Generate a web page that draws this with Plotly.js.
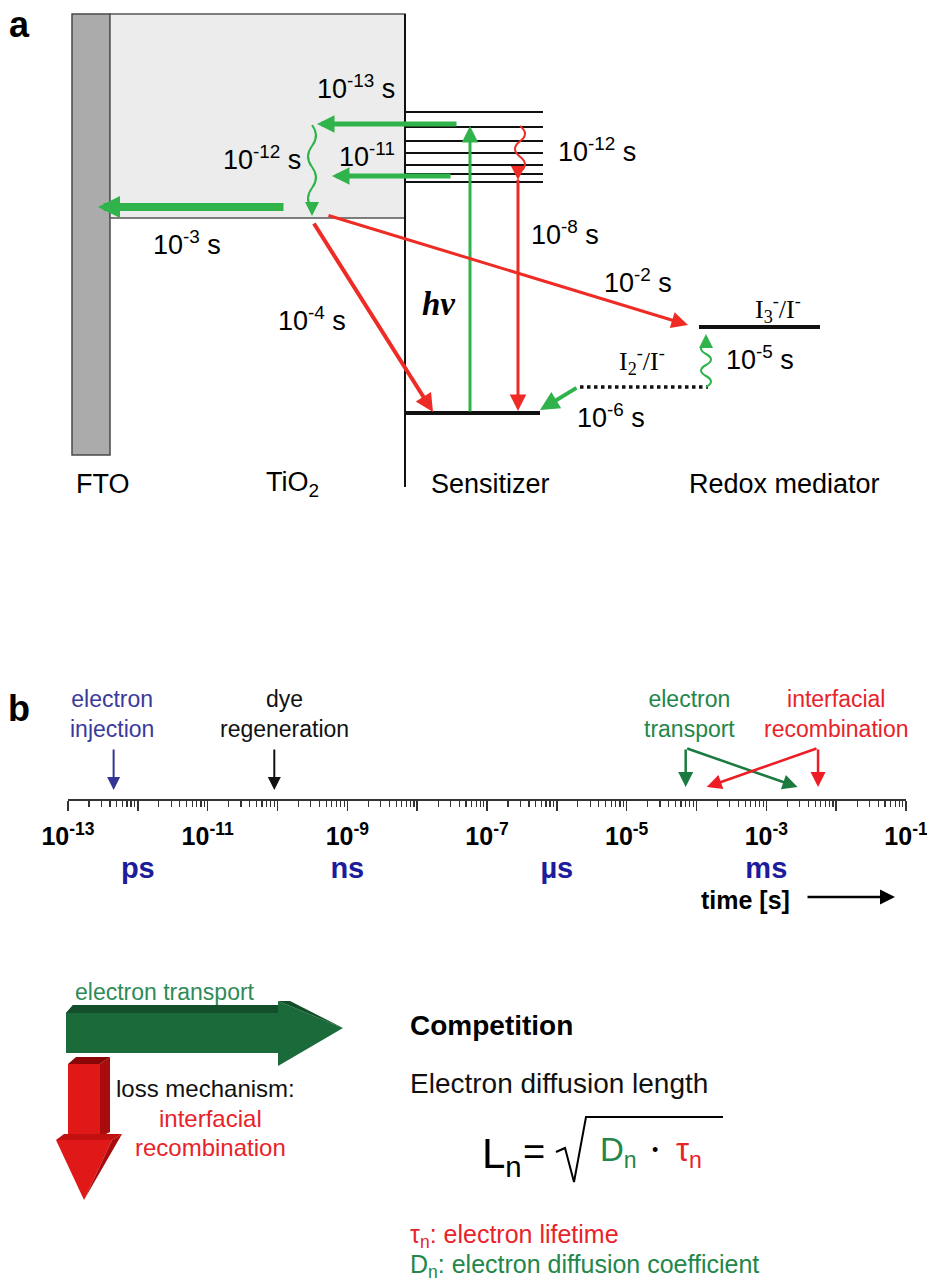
<!DOCTYPE html>
<html><head><meta charset="utf-8">
<script src="https://cdn.plot.ly/plotly-3.0.1.min.js"></script>
<style>html,body{margin:0;padding:0;background:#fff}</style>
</head><body><div id="chart" style="width:927px;height:1288px"></div>
<script>
// ================= DATA =================
// Panel a: energy levels (diagram units)
const excitedLevels = [112, 127, 141, 153, 165, 174, 182];
const groundLevel = 413;
const tio2Band = 218;
const i3Level = 327;
const i2Level = 387;
const columnNames = ['FTO', 'TiO<sub>2</sub>', 'Sensitizer', 'Redox mediator'];
const redoxCouples = ['I<sub>3</sub><sup>-</sup>/I<sup>-</sup>', 'I<sub>2</sub><sup>-</sup>/I<sup>-</sup>'];
const stepTimesA = ['10<sup>-13</sup> s', '10<sup>-12</sup> s', '10<sup>-11</sup>', '10<sup>-3</sup> s',
                    '10<sup>-4</sup> s', '10<sup>-12</sup> s', '10<sup>-8</sup> s', '10<sup>-2</sup> s',
                    '10<sup>-5</sup> s', '10<sup>-6</sup> s'];

// Panel b: log time axis
const decadeExps = [-13, -12, -11, -10, -9, -8, -7, -6, -5, -4, -3, -2, -1];
const labelledExps = [-13, -11, -9, -7, -5, -3, -1];
const minorDigits = [2, 3, 4, 5, 6, 7, 8, 9];
const unitLabels = ['ps', 'ns', 'µs', 'ms'];
const unitTimes = [1e-12, 1e-9, 1e-6, 1e-3];
const processNames = ['electron<br>injection', 'dye<br>regeneration', 'electron<br>transport', 'interfacial<br>recombination'];
const processLabelTimes = [4.2e-13, 1.25e-10, 8e-5, 1e-2];
const injectionTime = 4.5e-13;
const regenerationTime = 9e-11;
const transportTimes = [7e-5, 2.8e-3];
const recombinationTimes = [5.5e-3, 1.4e-4];

// ================= STYLE / LAYOUT =================
const FONT = 'Liberation Sans, Arial, sans-serif';
const SERIF = 'Liberation Serif, Times New Roman, serif';
const GREEN_A = '#2fb34a', RED_A = '#ee2b24';
const GREEN_B = '#23864a', RED_B = '#e8232a', BLUE_B = '#3a3a9c', UNIT_BLUE = '#1c1c9c';

const ann = [];
const shapes = [];
function txt(x, y, text, size, color, extra) {
  ann.push(Object.assign({xref: 'x', yref: 'y', x: x, y: y, text: text, showarrow: false,
    font: {family: FONT, size: size, color: color || '#000'}}, extra || {}));
}
function arrow(x0, y0, x1, y1, color, width, size, head, xr, yr) {
  ann.push({xref: xr || 'x', yref: yr || 'y', axref: xr || 'x', ayref: yr || 'y',
    ax: x0, ay: y0, x: x1, y: y1, text: '', showarrow: true,
    arrowcolor: color, arrowwidth: width, arrowsize: size || 1, arrowhead: head == null ? 2 : head});
}
function head(x, y, dx, dy, color, width, size) {
  ann.push({xref: 'x', yref: 'y', x: x, y: y, ax: dx, ay: dy, text: '', showarrow: true,
    arrowcolor: color, arrowwidth: width, arrowsize: size, arrowhead: 2});
}
function wavy(x, y0, y1, amp, halves, color, width) {
  const seg = (y1 - y0) / halves;
  let p = 'M' + x + ',' + y0;
  for (let i = 0; i < halves; i++) {
    const ys = y0 + seg * i, side = i % 2 ? -1 : 1;
    p += ' Q' + (x + side * amp * 2) + ',' + (ys + seg / 2) + ' ' + x + ',' + (ys + seg);
  }
  shapes.push({type: 'path', xref: 'x', yref: 'y', path: p, line: {color: color, width: width}});
}
function poly(pts, fill) {
  shapes.push({type: 'path', xref: 'x', yref: 'y', layer: 'below',
    path: 'M' + pts.map(p => p[0] + ',' + p[1]).join(' L') + ' Z', fillcolor: fill, line: {width: 0}});
}

// ---------- Panel a ----------
txt(19, 24, '<b>a</b>', 36);
shapes.push({type: 'rect', xref: 'x', yref: 'y', x0: 72, x1: 110, y0: 14, y1: 455, layer: 'below',
  fillcolor: '#ababab', line: {color: '#4a4a4a', width: 1.5}});
shapes.push({type: 'rect', xref: 'x', yref: 'y', x0: 110, x1: 405, y0: 14, y1: tio2Band, layer: 'below',
  fillcolor: '#ececec', line: {color: '#555', width: 1.5}});
shapes.push({type: 'line', xref: 'x', yref: 'y', x0: 405, x1: 405, y0: 14, y1: 487, line: {color: '#111', width: 2}});

// green arrows (injection, transport, excitation, regeneration)
arrow(458, 124, 317, 124, GREEN_A, 5, 0.7);
arrow(452, 176, 332, 176, GREEN_A, 5, 0.7);
arrow(285, 207, 98, 207, GREEN_A, 8, 0.55);
arrow(470, groundLevel, 470, 126, GREEN_A, 3, 1.1);
arrow(578, i2Level, 540, 410, GREEN_A, 4, 0.95);
wavy(312, 125, 209, 4, 4, GREEN_A, 2);
head(312, 216, 0, -9, GREEN_A, 2, 1.4);
wavy(706, 387, 343, 5, 4, GREEN_A, 2);
head(706, 334, 0, 9, GREEN_A, 2, 1.4);
// red arrows (relaxation, decay, recombination)
wavy(520, 126, 172, 5, 3, RED_A, 2);
head(518, 180, 0, -9, RED_A, 2, 1.4);
arrow(518, 178, 518, 411, RED_A, 3, 1.1);
arrow(313, 222, 433, 412, RED_A, 4, 0.9);
arrow(327, 215, 688, 325, RED_A, 3, 1.1);

const aLabelXY = [[356, 87], [262, 158], [367, 155], [187, 243], [312, 319], [597, 150], [565, 233], [638, 281], [760, 358], [611, 416]];
stepTimesA.forEach((t, i) => txt(aLabelXY[i][0], aLabelXY[i][1], t, 27));
txt(438, 304, '<b><i>hν</i></b>', 33, '#000', {font: {family: SERIF, size: 33, color: '#000'}});
txt(778, 309, redoxCouples[0], 26, '#000', {font: {family: SERIF, size: 26, color: '#000'}});
txt(642, 361, redoxCouples[1], 26, '#000', {font: {family: SERIF, size: 26, color: '#000'}});
const nameX = [103, 292, 490, 784];
columnNames.forEach((n, i) => txt(nameX[i], 484, n, 27));

// ---------- Panel b ----------
txt(19, 708, '<b>b</b>', 36);
const pColors = [BLUE_B, '#111', GREEN_B, RED_B];
processNames.forEach((n, i) => ann.push({xref: 'x2', yref: 'y2', x: Math.log10(processLabelTimes[i]), y: 714,
  text: n, showarrow: false, font: {family: FONT, size: 23, color: pColors[i]}}));
const L = Math.log10;
arrow(L(injectionTime), 748, L(injectionTime), 790, '#353595', 2, 1.3, 2, 'x2', 'y2');
arrow(L(regenerationTime), 748, L(regenerationTime), 790, '#111', 2, 1.3, 2, 'x2', 'y2');
arrow(L(transportTimes[0]), 748, L(transportTimes[0]), 787, '#1b7a40', 2.5, 1.2, 2, 'x2', 'y2');
arrow(L(transportTimes[0]), 748, L(transportTimes[1]), 787, '#1b7a40', 2.5, 1.2, 2, 'x2', 'y2');
arrow(L(recombinationTimes[0]), 748, L(recombinationTimes[0]), 787, '#ee1c24', 2.5, 1.2, 2, 'x2', 'y2');
arrow(L(recombinationTimes[0]), 748, L(recombinationTimes[1]), 787, '#ee1c24', 2.5, 1.2, 2, 'x2', 'y2');

txt(745, 900, '<b>time [s]</b>', 25);
arrow(806, 897, 895, 897, '#000', 2.5, 1.2, 2);

// ---------- bottom scheme ----------
// green 3D arrow
poly([[66, 1013], [73, 1005], [280, 1005], [280, 1053], [66, 1053]], '#1b6b3a');
poly([[66, 1013], [73, 1005], [280, 1005], [280, 1013]], '#124f2a');
poly([[278, 1001], [343, 1028], [278, 1066]], '#1b6b3a');
poly([[278, 1001], [290, 1001], [343, 1028]], '#124f2a');
txt(165, 992, 'electron transport', 23, '#2e8b57');
// red 3D arrow
poly([[68, 1064], [100, 1064], [100, 1137], [68, 1137]], '#e01818');
poly([[100, 1064], [110, 1057], [110, 1132], [100, 1137]], '#a80c0c');
poly([[68, 1064], [76, 1057], [110, 1057], [100, 1064]], '#8a0606');
poly([[56, 1140], [112, 1140], [84, 1200]], '#e01818');
poly([[112, 1140], [122, 1134], [84, 1200]], '#a80c0c');
poly([[56, 1140], [64, 1134], [122, 1134], [112, 1140]], '#c01010');
txt(205, 1088, 'loss mechanism:', 24, '#111');
txt(210, 1118, 'interfacial', 24, RED_B);
txt(210, 1147, 'recombination', 24, RED_B);

txt(408, 1025, '<b>Competition</b>', 28, '#000', {xanchor: 'left'});
txt(408, 1083, 'Electron diffusion length', 28, '#111', {xanchor: 'left'});
txt(480, 1156, 'L<sub>n</sub>', 42, '#000', {xanchor: 'left'});
txt(534, 1152, '=', 38, '#000');
shapes.push({type: 'path', xref: 'x', yref: 'y',
  path: 'M556,1152 L565,1148 L574,1182 L586,1117 L723,1117', line: {color: '#000', width: 2}});
txt(598, 1152, 'D<sub>n</sub>', 33, GREEN_B, {xanchor: 'left'});
txt(655, 1150, '•', 18, '#000');
txt(674, 1152, 'τ<sub>n</sub>', 33, RED_B, {xanchor: 'left'});
txt(408, 1236, 'τ<sub>n</sub>: electron lifetime', 25, RED_B, {xanchor: 'left'});
txt(408, 1266, 'D<sub>n</sub>: electron diffusion coefficient', 25, GREEN_B, {xanchor: 'left'});

// ================= TRACES =================
const lx = [], ly = [];
excitedLevels.forEach(v => { lx.push(405, 543, null); ly.push(v, v, null); });
const traces = [
  {type: 'scatter', mode: 'lines', x: lx, y: ly, line: {color: '#111', width: 2}, hoverinfo: 'skip'},
  {type: 'scatter', mode: 'lines', x: [405, 540], y: [groundLevel, groundLevel], line: {color: '#111', width: 4}, hoverinfo: 'skip'},
  {type: 'scatter', mode: 'lines', x: [699, 820], y: [i3Level, i3Level], line: {color: '#111', width: 4}, hoverinfo: 'skip'},
  {type: 'scatter', mode: 'lines', x: [580, 708], y: [i2Level, i2Level], line: {color: '#111', width: 3.5, dash: 'dot'}, hoverinfo: 'skip'},
  {type: 'scatter', mode: 'text', xaxis: 'x2', yaxis: 'y2', x: unitTimes, y: unitTimes.map(() => 871),
   text: unitLabels.map(u => '<b>' + u + '</b>'), textfont: {family: FONT, size: 29, color: UNIT_BLUE},
   cliponaxis: false, hoverinfo: 'skip'}
];

const tickvals = decadeExps.map(e => Math.pow(10, e));
const ticktext = decadeExps.map(e => labelledExps.includes(e) ? '<b>10<sup>' + e + '</sup></b>' : '');
const minorVals = [];
decadeExps.slice(0, -1).forEach(e => minorDigits.forEach(d => minorVals.push(d * Math.pow(10, e))));

const layout = {
  width: 927, height: 1288, margin: {l: 0, r: 0, t: 0, b: 0},
  paper_bgcolor: '#fff', plot_bgcolor: 'rgba(0,0,0,0)', showlegend: false,
  xaxis: {domain: [0, 1], range: [0, 927], visible: false, fixedrange: true},
  yaxis: {domain: [0, 1], range: [1288, 0], visible: false, fixedrange: true},
  xaxis2: {type: 'log', domain: [68 / 927, 906 / 927], range: [-13, -1], anchor: 'free', position: 1 - 800 / 1288,
    showline: true, linecolor: '#333', linewidth: 2, ticks: 'outside', ticklen: 10, tickwidth: 1.5, tickcolor: '#333',
    tickmode: 'array', tickvals: tickvals, ticktext: ticktext, ticklabelstandoff: 4, ticklabeloverflow: 'allow',
    tickfont: {family: FONT, size: 25, color: '#000'}, showgrid: false, zeroline: false, fixedrange: true,
    minor: {tickmode: 'array', tickvals: minorVals, ticks: 'outside', ticklen: 6, tickwidth: 1.2, tickcolor: '#333', showgrid: false}},
  yaxis2: {domain: [1 - 905 / 1288, 1 - 685 / 1288], range: [905, 685], anchor: 'x2', visible: false, fixedrange: true},
  shapes: shapes, annotations: ann
};
Plotly.newPlot('chart', traces, layout, {staticPlot: true, displayModeBar: false});
</script></body></html>
